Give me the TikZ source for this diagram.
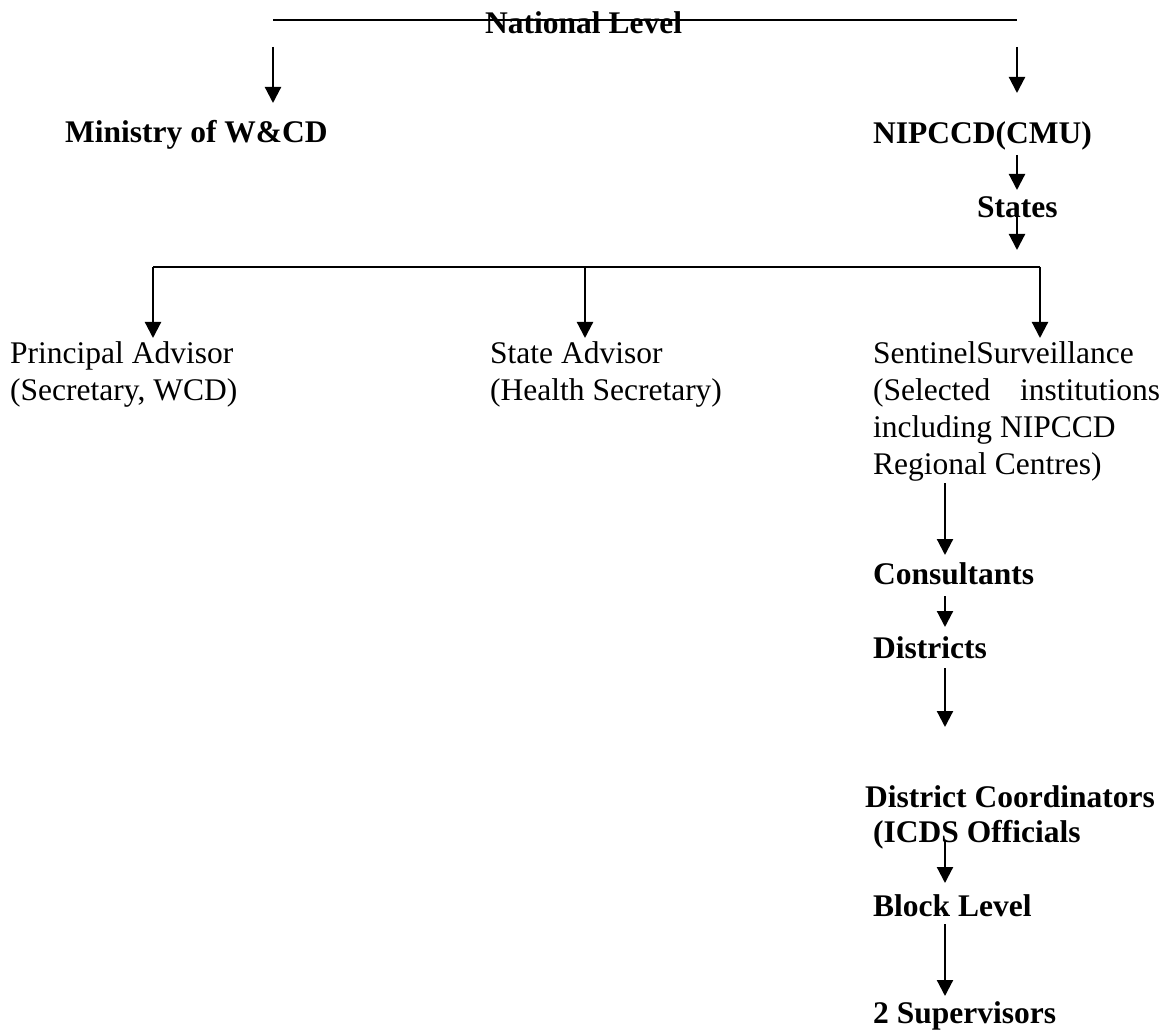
\documentclass[tikz,border=0pt]{standalone}
\usepackage{fontspec}
\setmainfont{Liberation Serif}
\usetikzlibrary{arrows.meta}
\begin{document}
\begin{tikzpicture}[x=1pt,y=-1pt,
  txt/.style={anchor=base west,inner sep=0pt,font=\fontsize{31.5}{37}\selectfont},
  btxt/.style={txt,font=\fontsize{31.5}{37}\selectfont\bfseries},
  conn/.style={line width=2.2pt},
  arr/.style={conn,-{Triangle[width=16pt,length=16pt]}}]
\useasboundingbox (0,0) rectangle (1171,1032);
% texts
\node[btxt] (nat) at (485,34) {National Level};
\node[btxt] (min) at (65,143) {Ministry of W\&CD};
\node[btxt] (nip) at (873,144) {NIPCCD(CMU)};
\node[btxt] (sta) at (977,218) {States};
\node[txt] (pa) at (10,364) {\vtop{\hbox{Principal Advisor}\hbox{(Secretary, WCD)}}};
\node[txt] (sa) at (490,364) {\vtop{\hbox{State Advisor}\hbox{(Health Secretary)}}};
\node[txt] (ss) at (873,364) {\vtop{\hbox{SentinelSurveillance}\hbox{\makebox[287pt][s]{(Selected institutions}}\hbox{including NIPCCD}\hbox{Regional Centres)}}};
\node[btxt] (con) at (873,584) {Consultants};
\node[btxt] (dis) at (873,658) {Districts};
\node[btxt] (dc) at (865,807) {District Coordinators};
\node[btxt] (icds) at (873,842) {(ICDS Officials};
\node[btxt] (blk) at (873,916) {Block Level};
\node[btxt] (sup) at (873,1023) {2 Supervisors};
% connector points
\coordinate (tl) at (273,20);
\coordinate (tr) at (1017,20);
\coordinate (a1s) at (273,47);  \coordinate (a1e) at (273,103);
\coordinate (a2s) at (1017,47); \coordinate (a2e) at (1017,93);
\coordinate (a3s) at (1017,155); \coordinate (a3e) at (1017,190);
\coordinate (a4s) at (1017,213); \coordinate (a4e) at (1017,250);
\coordinate (bl) at (153,267); \coordinate (bm) at (585,267); \coordinate (br) at (1040,267);
\coordinate (ble) at (153,338); \coordinate (bme) at (585,338); \coordinate (bre) at (1040,338);
\coordinate (c1s) at (945,483); \coordinate (c1e) at (945,555);
\coordinate (c2s) at (945,596); \coordinate (c2e) at (945,627);
\coordinate (c3s) at (945,668); \coordinate (c3e) at (945,727);
\coordinate (c4s) at (945,840); \coordinate (c4e) at (945,883);
\coordinate (c5s) at (945,924); \coordinate (c5e) at (945,996);
% connectors
\draw[line width=2pt] (tl) -- (tr);
\draw[arr] (a1s) -- (a1e);
\draw[arr] (a2s) -- (a2e);
\draw[arr] (a3s) -- (a3e);
\draw[arr] (a4s) -- (a4e);
\draw[line width=2pt] (bl) -- (br);
\draw[arr] (bl) -- (ble);
\draw[arr] (bm) -- (bme);
\draw[arr] (br) -- (bre);
\draw[arr] (c1s) -- (c1e);
\draw[arr] (c2s) -- (c2e);
\draw[arr] (c3s) -- (c3e);
\draw[arr] (c4s) -- (c4e);
\draw[arr] (c5s) -- (c5e);
\end{tikzpicture}
\end{document}
